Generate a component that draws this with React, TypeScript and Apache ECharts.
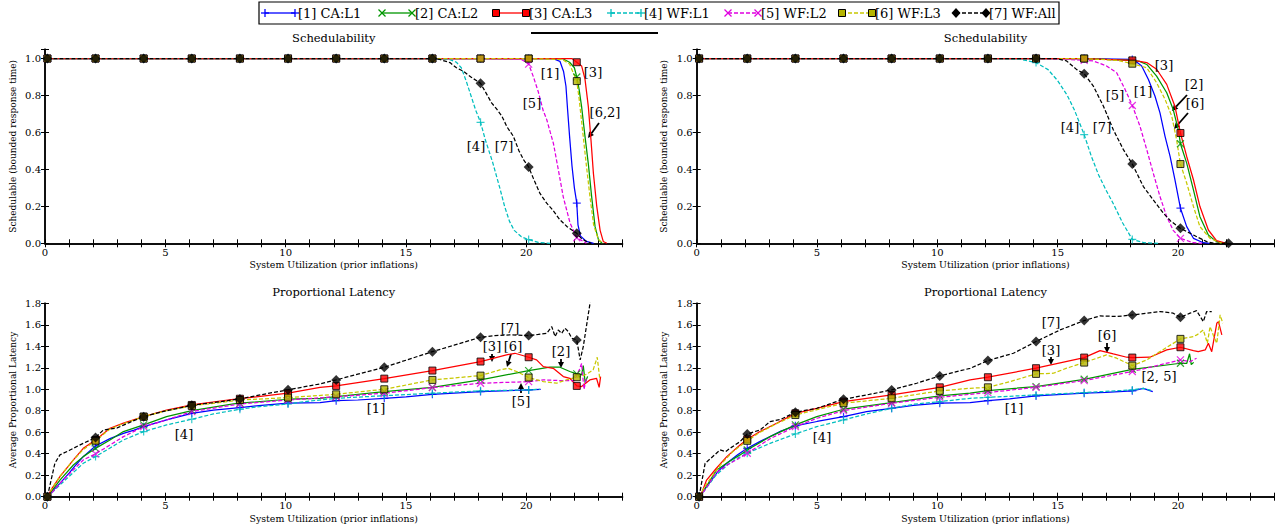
import React, { useEffect, useRef } from 'react';
import * as echarts from 'echarts';

type Pt = [number, number];

// ---------- Schedulability, left panel ----------
const schedL_caL1: Pt[] = [[0.1,1],[2.1,1],[4.1,1],[6.1,1],[8.1,1],[10.1,1],[12.1,1],[14.1,1],[16.1,1],[18.1,1],[20.1,1],[21.1,1],[21.4,0.985],[21.55,0.93],[21.65,0.85],[21.72,0.72],[21.8,0.58],[21.9,0.42],[22.0,0.3],[22.1,0.217],[22.15,0.1],[22.25,0.04],[22.5,0.01],[22.8,0]];
const schedL_caL2: Pt[] = [[0.1,1],[2.1,1],[4.1,1],[6.1,1],[8.1,1],[10.1,1],[12.1,1],[14.1,1],[16.1,1],[18.1,1],[20.1,1],[21.5,1],[21.8,0.98],[22.0,0.95],[22.1,0.9],[22.2,0.83],[22.3,0.74],[22.44,0.58],[22.58,0.43],[22.72,0.25],[22.86,0.09],[23.0,0.02],[23.15,0]];
const schedL_caL3: Pt[] = [[0.1,1],[2.1,1],[4.1,1],[6.1,1],[8.1,1],[10.1,1],[12.1,1],[14.1,1],[16.1,1],[18.1,1],[20.1,1],[21.9,1],[22.1,0.98],[22.3,0.96],[22.44,0.89],[22.58,0.74],[22.69,0.56],[22.79,0.38],[22.93,0.2],[23.07,0.07],[23.2,0.01],[23.35,0]];
const schedL_wfL1: Pt[] = [[0.1,1],[2.1,1],[4.1,1],[6.1,1],[8.1,1],[10.1,1],[12.1,1],[14.1,1],[16.1,1],[16.8,0.995],[17.1,0.98],[17.3,0.95],[17.5,0.88],[17.7,0.8],[17.9,0.72],[18.1,0.655],[18.3,0.56],[18.6,0.44],[18.9,0.3],[19.1,0.2],[19.3,0.12],[19.5,0.07],[19.8,0.035],[20.1,0.02],[20.5,0.005],[21,0]];
const schedL_wfL2: Pt[] = [[0.1,1],[2.1,1],[4.1,1],[6.1,1],[8.1,1],[10.1,1],[12.1,1],[14.1,1],[16.1,1],[18.1,1],[19.8,0.995],[20.1,0.97],[20.3,0.9],[20.5,0.82],[20.7,0.72],[20.85,0.67],[21.0,0.6],[21.13,0.54],[21.33,0.4],[21.54,0.25],[21.82,0.11],[22.1,0.03],[22.5,0]];
const schedL_wfL3: Pt[] = [[0.1,1],[2.1,1],[4.1,1],[6.1,1],[8.1,1],[10.1,1],[12.1,1],[14.1,1],[16.1,1],[18.1,1],[20.1,1],[21.5,0.995],[21.8,0.97],[22.1,0.878],[22.2,0.78],[22.35,0.6],[22.5,0.42],[22.65,0.25],[22.8,0.1],[23.0,0.02],[23.2,0]];
const schedL_wfAll: Pt[] = [[0.1,1],[2.1,1],[4.1,1],[6.1,1],[8.1,1],[10.1,1],[12.1,1],[14.1,1],[16.1,1],[16.4,0.995],[16.83,0.978],[17.1,0.95],[17.4,0.93],[17.7,0.9],[18.1,0.866],[18.3,0.82],[18.56,0.76],[18.75,0.73],[18.98,0.69],[19.2,0.63],[19.46,0.58],[19.7,0.5],[19.9,0.45],[20.1,0.413],[20.3,0.35],[20.57,0.27],[20.85,0.217],[21.1,0.18],[21.4,0.127],[21.7,0.09],[22.1,0.054],[22.3,0.025],[22.5,0.01],[22.7,0]];

// ---------- Schedulability, right panel ----------
const schedR_caL1: Pt[] = [[0.1,1],[2.1,1],[4.1,1],[6.1,1],[8.1,1],[10.1,1],[12.1,1],[14.1,1],[16.1,1],[18.1,0.995],[18.2,0.99],[18.49,0.96],[18.77,0.887],[19.04,0.797],[19.25,0.706],[19.46,0.579],[19.67,0.47],[19.87,0.344],[20.1,0.19],[20.36,0.09],[20.64,0.027],[21.05,0.003],[21.3,0]];
const schedR_caL2: Pt[] = [[0.1,1],[2.1,1],[4.1,1],[6.1,1],[8.1,1],[10.1,1],[12.1,1],[14.1,1],[16.1,1],[18.1,0.99],[18.4,0.985],[18.7,0.968],[19.11,0.905],[19.53,0.815],[19.8,0.724],[20.01,0.615],[20.1,0.539],[20.36,0.434],[20.64,0.289],[20.91,0.144],[21.26,0.045],[21.6,0.009],[21.9,0]];
const schedR_caL3: Pt[] = [[0.1,1],[2.1,1],[4.1,1],[6.1,1],[8.1,1],[10.1,1],[12.1,1],[14.1,1],[16.1,1],[18.1,0.99],[18.4,0.985],[18.7,0.978],[19.11,0.942],[19.53,0.86],[19.87,0.742],[20.1,0.597],[20.36,0.47],[20.64,0.344],[20.91,0.199],[21.26,0.072],[21.6,0.014],[22.0,0]];
const schedR_wfL1: Pt[] = [[0.1,1],[2.1,1],[4.1,1],[6.1,1],[8.1,1],[10.1,1],[12.1,1],[13.5,0.995],[14.1,0.978],[14.6,0.94],[15.0,0.88],[15.4,0.8],[15.7,0.72],[16.1,0.588],[16.4,0.47],[16.7,0.37],[17.0,0.29],[17.3,0.217],[17.7,0.11],[18.1,0.021],[18.6,0.003],[19.2,0]];
const schedR_wfL2: Pt[] = [[0.1,1],[2.1,1],[4.1,1],[6.1,1],[8.1,1],[10.1,1],[12.1,1],[14.1,1],[15.5,0.995],[16.1,0.99],[16.48,0.987],[17.03,0.96],[17.45,0.923],[17.8,0.833],[18.1,0.746],[18.42,0.633],[18.7,0.507],[18.97,0.38],[19.25,0.253],[19.53,0.144],[19.8,0.07],[20.1,0.027],[20.64,0.003],[21,0]];
const schedR_wfL3: Pt[] = [[0.1,1],[2.1,1],[4.1,1],[6.1,1],[8.1,1],[10.1,1],[12.1,1],[14.1,1],[16.1,1],[17.5,0.99],[18.1,0.972],[18.7,0.95],[19.11,0.869],[19.46,0.779],[19.74,0.688],[19.94,0.561],[20.1,0.429],[20.36,0.326],[20.64,0.199],[20.91,0.09],[21.33,0.027],[21.74,0.003],[22,0]];
const schedR_wfAll: Pt[] = [[0.1,1],[2.1,1],[4.1,1],[6.1,1],[8.1,1],[10.1,1],[12.1,1],[14.1,1],[14.96,1],[15.37,0.987],[15.79,0.94],[16.1,0.918],[16.48,0.851],[16.9,0.742],[17.31,0.615],[17.73,0.507],[18.1,0.429],[18.56,0.307],[18.97,0.235],[19.39,0.163],[19.7,0.12],[20.1,0.081],[20.64,0.045],[21.19,0.009],[21.5,0],[22.1,0]];

// ---------- Proportional latency, left panel ----------
const latL_caL1: Pt[] = [[0.1,0],[0.3,0.05],[0.62,0.124],[1.0,0.22],[1.3,0.3],[1.59,0.373],[2.1,0.472],[2.7,0.54],[3.26,0.59],[3.7,0.62],[4.1,0.652],[5.05,0.715],[6.1,0.776],[7.0,0.805],[8.1,0.83],[9.0,0.85],[10.1,0.87],[11.43,0.876],[12.1,0.894],[13,0.9],[14.1,0.916],[15,0.93],[16.1,0.953],[17,0.965],[18.1,0.978],[19,0.985],[20.1,0.994],[20.6,1.0]];
const latL_caL2: Pt[] = [[0.1,0],[0.3,0.06],[0.62,0.155],[1.18,0.295],[1.59,0.373],[2.1,0.45],[2.7,0.528],[3.26,0.606],[4.1,0.668],[5.05,0.745],[6.1,0.801],[7.83,0.863],[8.1,0.87],[10.1,0.907],[11.43,0.916],[12.1,0.932],[14.1,0.978],[16.1,1.018],[18.1,1.087],[20.1,1.174],[20.98,1.205],[21.4,1.205],[21.81,1.165],[22.1,1.143],[22.3,1.133],[22.37,1.22],[22.45,1.06],[22.55,1.12]];
const latL_caL3: Pt[] = [[0.1,0],[0.3,0.08],[0.62,0.187],[1.18,0.342],[1.59,0.45],[2.1,0.528],[2.7,0.637],[3.26,0.684],[4.1,0.745],[5.05,0.807],[6.1,0.854],[7.83,0.907],[8.1,0.912],[10.1,0.963],[11.43,1.018],[12.1,1.031],[14.1,1.099],[16.1,1.174],[18.1,1.258],[19.18,1.32],[19.53,1.335],[20.1,1.298],[20.43,1.273],[20.71,1.211],[21.12,1.195],[21.54,1.118],[21.81,1.102],[22.1,1.031],[22.3,1.025],[22.64,1.087],[22.92,1.102],[23.03,1.018],[23.09,1.118]];
const latL_wfL1: Pt[] = [[0.1,0],[0.3,0.04],[0.62,0.109],[1.59,0.311],[2.1,0.373],[3.26,0.528],[4.1,0.606],[5.05,0.668],[6.1,0.721],[7,0.77],[8.1,0.814],[9,0.84],[10.1,0.863],[11,0.89],[12.1,0.916],[14.1,0.94],[16.1,0.963],[18.1,0.985],[20.1,0.994],[20.57,1.0]];
const latL_wfL2: Pt[] = [[0.1,0],[0.3,0.04],[0.62,0.124],[1.59,0.342],[2.1,0.398],[3.26,0.559],[4.1,0.652],[5.05,0.714],[6.1,0.792],[8.1,0.863],[10.1,0.9],[12.1,0.93],[14.1,0.963],[16.1,1.015],[18.1,1.056],[20.1,1.071],[20.71,1.087],[21.5,1.08],[22.0,1.08],[22.2,1.18],[22.3,1.24],[22.4,1.0],[22.5,1.1]];
const latL_wfL3: Pt[] = [[0.1,0],[0.3,0.08],[0.62,0.19],[1.18,0.34],[1.59,0.44],[2.1,0.52],[2.7,0.63],[3.26,0.68],[4.1,0.745],[5.05,0.8],[6.1,0.845],[8.1,0.9],[10.1,0.922],[12.1,0.953],[14.1,1.0],[16.1,1.087],[18.1,1.127],[18.9,1.18],[19.25,1.195],[19.6,1.165],[20.1,1.109],[20.71,1.071],[21.26,1.056],[21.67,1.087],[22.1,1.112],[22.3,1.118],[22.5,1.14],[22.78,1.18],[22.95,1.298],[23.06,1.087]];
const latL_wfAll: Pt[] = [[0.1,0],[0.41,0.311],[0.62,0.389],[1.0,0.43],[1.59,0.497],[2.1,0.55],[2.42,0.62],[2.7,0.63],[3.0,0.64],[3.5,0.69],[4.1,0.745],[5.05,0.8],[6.1,0.85],[7.0,0.875],[8.1,0.91],[9,0.95],[10.1,0.995],[11.43,1.05],[12.1,1.087],[13,1.14],[14.1,1.205],[15,1.27],[16.1,1.35],[17,1.41],[18.1,1.484],[18.7,1.5],[19.32,1.506],[20.1,1.5],[20.5,1.51],[20.85,1.52],[21.06,1.583],[21.2,1.49],[21.33,1.552],[21.47,1.52],[21.61,1.568],[21.75,1.536],[21.89,1.475],[22.1,1.459],[22.24,1.273],[22.37,1.397],[22.65,1.8],[22.75,2.0]];

// ---------- Proportional latency, right panel ----------
const latR_caL1: Pt[] = [[0.1,0],[0.3,0.06],[0.6,0.15],[0.9,0.24],[1.3,0.32],[1.7,0.39],[2.1,0.45],[2.6,0.51],[3.05,0.56],[3.5,0.61],[4.1,0.66],[5,0.7],[6.1,0.745],[7.06,0.792],[8.1,0.823],[9,0.85],[10.1,0.87],[11.36,0.876],[12.1,0.894],[13,0.91],[14.1,0.938],[15,0.95],[16.1,0.963],[17,0.97],[18.1,0.985],[18.56,1.009],[18.95,0.978]];
const latR_caL2: Pt[] = [[0.1,0],[0.3,0.06],[0.83,0.249],[1.3,0.32],[1.8,0.389],[2.1,0.435],[3.05,0.559],[4.1,0.668],[4.99,0.745],[6.1,0.814],[8.1,0.876],[10.1,0.938],[11.36,0.963],[12.1,0.988],[14.1,1.025],[16.1,1.093],[18.1,1.186],[20.1,1.242],[20.36,1.24],[20.48,1.33],[20.55,1.23],[20.65,1.25]];
const latR_caL3: Pt[] = [[0.1,0],[0.2,0.03],[0.41,0.155],[0.8,0.26],[1.25,0.373],[1.8,0.482],[2.1,0.534],[2.63,0.606],[3.32,0.684],[4.1,0.776],[4.99,0.823],[6.1,0.885],[8.1,0.947],[10.1,1.018],[11.36,1.087],[12.1,1.112],[14.1,1.196],[16.1,1.295],[16.76,1.36],[17.31,1.329],[17.87,1.298],[18.1,1.295],[18.83,1.298],[19.53,1.366],[20.1,1.391],[20.64,1.36],[20.84,1.35],[21.13,1.366],[21.26,1.428],[21.4,1.35],[21.61,1.614],[21.68,1.63],[21.82,1.506]];
const latR_wfL1: Pt[] = [[0.1,0],[0.3,0.05],[0.8,0.2],[1.3,0.3],[1.7,0.36],[2.1,0.404],[3.05,0.497],[4.1,0.584],[4.99,0.652],[6.1,0.714],[7.06,0.77],[8.1,0.823],[9,0.86],[10.1,0.885],[11.36,0.916],[12.1,0.925],[14.1,0.947],[16.1,0.969],[18.1,0.994],[18.56,1.009],[18.95,0.985]];
const latR_wfL2: Pt[] = [[0.1,0],[0.3,0.05],[0.8,0.22],[1.3,0.3],[1.7,0.35],[2.1,0.404],[3.05,0.54],[4.1,0.652],[5,0.73],[6.1,0.801],[8.1,0.87],[10.1,0.925],[12.1,0.969],[14.1,1.018],[16.1,1.081],[18.1,1.165],[20.1,1.273],[20.5,1.257],[20.77,1.289]];
const latR_wfL3: Pt[] = [[0.1,0],[0.3,0.08],[0.6,0.18],[1.0,0.3],[1.5,0.42],[2.1,0.52],[2.63,0.6],[3.32,0.68],[4.1,0.76],[5,0.81],[6.1,0.87],[8.1,0.916],[10.1,0.985],[11.36,1.009],[12.1,1.018],[13,1.07],[14.1,1.143],[14.82,1.149],[15.37,1.196],[16.1,1.248],[17.03,1.32],[17.45,1.289],[18.1,1.22],[18.7,1.273],[19.25,1.351],[20.1,1.469],[20.64,1.49],[20.78,1.506],[21.05,1.552],[21.22,1.428],[21.33,1.583],[21.47,1.5],[21.61,1.428],[21.75,1.692],[21.86,1.614]];
const latR_wfAll: Pt[] = [[0.1,0],[0.35,0.311],[0.6,0.36],[0.97,0.435],[1.2,0.42],[1.38,0.45],[1.8,0.512],[2.1,0.584],[2.63,0.621],[3.05,0.699],[3.5,0.72],[4.1,0.786],[4.99,0.823],[6.1,0.907],[7.06,0.947],[8.1,0.994],[9.14,1.056],[10.1,1.124],[11.36,1.195],[12.1,1.267],[13.16,1.335],[14.1,1.444],[15.1,1.552],[16.1,1.639],[16.76,1.683],[17.45,1.677],[18.1,1.692],[18.7,1.708],[19.25,1.723],[19.8,1.708],[20.1,1.67],[20.5,1.708],[20.77,1.732],[21.05,1.63],[21.19,1.723],[21.4,1.723]];

// ---------- series styling ----------
const seriesNames = ['[1] CA:L1', '[2] CA:L2', '[3] CA:L3', '[4] WF:L1', '[5] WF:L2', '[6] WF:L3', '[7] WF:All'];
const lineColors = ['#0000ff', '#009600', '#ff0000', '#00bebe', '#e000e0', '#c8c800', '#000000'];
const markFill = ['#0000ff', '#009600', '#ff0000', '#00bebe', '#e000e0', '#b4b400', '#000000'];
const markKinds = ['plus', 'cross', 'square', 'plus', 'cross', 'square', 'diamond'];
const dashedLine = [false, false, false, true, true, true, true];

const FONT = '"DejaVu Serif", "Liberation Serif", serif';
const X_NAME = 'System Utilization (prior inflations)';

const panels = [
  { grid: { left: 45, top: 49.3, width: 577.5, height: 194 }, yMax: 1.05, title: 'Schedulability', yName: 'Schedulable (bounded response time)',
    data: [schedL_caL1, schedL_caL2, schedL_caL3, schedL_wfL1, schedL_wfL2, schedL_wfL3, schedL_wfAll] },
  { grid: { left: 696.7, top: 49.3, width: 577.6, height: 194 }, yMax: 1.05, title: 'Schedulability', yName: 'Schedulable (bounded response time)',
    data: [schedR_caL1, schedR_caL2, schedR_caL3, schedR_wfL1, schedR_wfL2, schedR_wfL3, schedR_wfAll] },
  { grid: { left: 45, top: 303.3, width: 577.5, height: 193.4 }, yMax: 1.8, title: 'Proportional Latency', yName: 'Average Proportional Latency',
    data: [latL_caL1, latL_caL2, latL_caL3, latL_wfL1, latL_wfL2, latL_wfL3, latL_wfAll] },
  { grid: { left: 696.7, top: 303.3, width: 577.6, height: 193.4 }, yMax: 1.8, title: 'Proportional Latency', yName: 'Average Proportional Latency',
    data: [latR_caL1, latR_caL2, latR_caL3, latR_wfL1, latR_wfL2, latR_wfL3, latR_wfAll] },
];

// Text annotations: [label, centre x, centre y]
const notes: [string, number, number][] = [
  ['[1]', 550, 73], ['[3]', 593, 72], ['[5]', 532, 103], ['[6,2]', 605, 112], ['[4]', 476, 146], ['[7]', 504, 146],
  ['[3]', 1164, 65], ['[2]', 1194, 84], ['[6]', 1195, 103], ['[5]', 1115, 95], ['[1]', 1143, 91], ['[4]', 1070, 127], ['[7]', 1102, 127],
  ['[7]', 510, 328], ['[3]', 492, 346], ['[6]', 513, 346], ['[2]', 561, 351], ['[5]', 521, 401], ['[1]', 376, 408], ['[4]', 184, 434],
  ['[7]', 1051, 322], ['[3]', 1051, 350], ['[6]', 1107, 335], ['[2, 5]', 1159, 376], ['[1]', 1014, 408], ['[4]', 822, 437],
];
// Pointer arrows: [x1, y1, x2 (tip), y2 (tip)]
const pointers: [number, number, number, number][] = [
  [599, 123, 588, 138],
  [1187, 95, 1172, 111], [1188, 113, 1174, 129],
  [492, 354, 492, 362], [511, 354, 507, 367], [561, 359, 561, 368], [521, 393, 521, 383],
  [1051, 357, 1051, 365], [1107, 343, 1107, 353],
];
const legendIconX = [265, 382, 496, 611, 728, 842, 956];

const SYMBOL: Record<string, string> = {
  plus: 'path://M5,0L5,10M0,5L10,5',
  cross: 'path://M0,0L10,10M10,0L0,10',
  square: 'rect',
  diamond: 'diamond',
};

const onMarkGrid = (x: number) => {
  const k = (x - 0.1) / 2;
  return Math.abs(k - Math.round(k)) < 1e-6;
};

function markStyle(i: number) {
  const kind = markKinds[i];
  if (kind === 'plus' || kind === 'cross')
    return { size: kind === 'plus' ? 8 : 7, style: { color: lineColors[i], borderColor: lineColors[i], borderWidth: 1.2 } };
  if (kind === 'square') return { size: 7, style: { color: markFill[i], borderColor: '#000', borderWidth: 1 } };
  return { size: 10, style: { color: '#000', borderColor: '#000', borderWidth: 0 } };
}

function legendMarker(i: number, cx: number, cy: number): any[] {
  const kind = markKinds[i];
  const c = lineColors[i];
  if (kind === 'plus')
    return [
      { type: 'line', shape: { x1: cx - 4, y1: cy, x2: cx + 4, y2: cy }, style: { stroke: c, lineWidth: 1.3 } },
      { type: 'line', shape: { x1: cx, y1: cy - 4, x2: cx, y2: cy + 4 }, style: { stroke: c, lineWidth: 1.3 } },
    ];
  if (kind === 'cross')
    return [
      { type: 'line', shape: { x1: cx - 3.5, y1: cy - 3.5, x2: cx + 3.5, y2: cy + 3.5 }, style: { stroke: c, lineWidth: 1.3 } },
      { type: 'line', shape: { x1: cx - 3.5, y1: cy + 3.5, x2: cx + 3.5, y2: cy - 3.5 }, style: { stroke: c, lineWidth: 1.3 } },
    ];
  if (kind === 'square')
    return [{ type: 'rect', shape: { x: cx - 3.5, y: cy - 3.5, width: 7, height: 7 }, style: { fill: markFill[i], stroke: '#000', lineWidth: 1 } }];
  return [{ type: 'polygon', shape: { points: [[cx, cy - 5], [cx + 4.5, cy], [cx, cy + 5], [cx - 4.5, cy]] }, style: { fill: '#000' } }];
}

function arrow(x1: number, y1: number, x2: number, y2: number): any[] {
  const a = Math.atan2(y2 - y1, x2 - x1);
  const L = 6, W = 3;
  const bx = x2 - L * Math.cos(a), by = y2 - L * Math.sin(a);
  const px = -Math.sin(a) * W, py = Math.cos(a) * W;
  return [
    { type: 'line', shape: { x1, y1, x2: bx, y2: by }, style: { stroke: '#000', lineWidth: 1.8 } },
    { type: 'polygon', shape: { points: [[x2, y2], [bx + px, by + py], [bx - px, by - py]] }, style: { fill: '#000' } },
  ];
}

function buildOption() {
  const axisLine = { show: true, lineStyle: { color: '#000', width: 1.5 } };
  const tick = { show: true, inside: true, length: 4, lineStyle: { color: '#000', width: 1 } };
  const xAxis: any[] = [];
  const yAxis: any[] = [];
  const series: any[] = [];

  panels.forEach((p, gi) => {
    const xBase = { gridIndex: gi, type: 'value', min: 0, max: 24, interval: 1, axisLine, axisTick: tick, splitLine: { show: false } };
    xAxis.push({
      ...xBase, position: 'bottom',
      axisLabel: { formatter: (v: number) => (v % 5 === 0 ? String(v) : ''), color: '#000', fontFamily: FONT, fontSize: 10, margin: 4 },
      name: X_NAME, nameLocation: 'middle', nameGap: 17,
      nameTextStyle: { color: '#000', fontFamily: FONT, fontSize: 9.4 },
    });
    xAxis.push({ ...xBase, position: 'top', axisLabel: { show: false } });

    const yBase = { gridIndex: gi, type: 'value', min: 0, max: p.yMax, interval: 0.2, axisLine, axisTick: tick, splitLine: { show: false } };
    yAxis.push({
      ...yBase, position: 'left',
      axisLabel: {
        formatter: (v: number) => {
          const k = v / 0.2;
          return Math.abs(k - Math.round(k)) < 1e-6 ? v.toFixed(1) : '';
        },
        color: '#000', fontFamily: FONT, fontSize: 10, margin: 4,
      },
      name: p.yName, nameLocation: 'middle', nameGap: 28,
      nameTextStyle: { color: '#000', fontFamily: FONT, fontSize: 9 },
    });
    yAxis.push({ ...yBase, position: 'right', axisLabel: { show: false } });

    const xi = gi * 2, yi = gi * 2;
    p.data.forEach((d, i) => {
      series.push({
        type: 'line', name: seriesNames[i], xAxisIndex: xi, yAxisIndex: yi, data: d,
        showSymbol: false, symbol: 'none', silent: true, clip: true, z: 2 + i * 0.01,
        lineStyle: { color: lineColors[i], width: 1.25, type: dashedLine[i] ? [4, 2] : 'solid' },
      });
    });
    p.data.forEach((d, i) => {
      const m = markStyle(i);
      series.push({
        type: 'scatter', name: seriesNames[i], xAxisIndex: xi, yAxisIndex: yi,
        data: d.filter(pt => onMarkGrid(pt[0])),
        symbol: SYMBOL[markKinds[i]], symbolSize: m.size, itemStyle: m.style, silent: true, z: 3 + i * 0.01,
      });
    });
  });

  const graphic: any[] = [];
  // panel titles
  panels.forEach(p => {
    graphic.push({
      type: 'text', x: p.grid.left + p.grid.width / 2, y: p.grid.top - 11,
      style: { text: p.title, align: 'center', verticalAlign: 'middle', font: `11.5px ${FONT}`, fill: '#000' },
    });
  });
  // legend box
  graphic.push({ type: 'rect', shape: { x: 259, y: 2, width: 800, height: 22 }, style: { fill: '#fff', stroke: '#000', lineWidth: 1.2 } });
  seriesNames.forEach((name, i) => {
    const x0 = legendIconX[i], y0 = 13;
    graphic.push({
      type: 'line', shape: { x1: x0, y1: y0, x2: x0 + 30, y2: y0 },
      style: { stroke: lineColors[i], lineWidth: 1.3, lineDash: dashedLine[i] ? [4, 2] : null },
    });
    graphic.push(...legendMarker(i, x0, y0), ...legendMarker(i, x0 + 30, y0));
    graphic.push({
      type: 'text', x: x0 + 33, y: y0,
      style: { text: name, align: 'left', verticalAlign: 'middle', font: `13px ${FONT}`, fill: '#000' },
    });
  });
  // rule under the legend
  graphic.push({ type: 'line', shape: { x1: 531, y1: 33, x2: 658, y2: 33 }, style: { stroke: '#000', lineWidth: 2 } });
  // curve labels
  notes.forEach(([t, x, y]) => {
    graphic.push({ type: 'text', x, y, style: { text: t, align: 'center', verticalAlign: 'middle', font: `13px ${FONT}`, fill: '#000' }, z: 10 });
  });
  pointers.forEach(([a, b, c, d]) => graphic.push(...arrow(a, b, c, d)));

  return {
    animation: false,
    backgroundColor: '#fff',
    grid: panels.map(p => ({ ...p.grid, containLabel: false })),
    xAxis, yAxis, series, graphic,
  };
}

export default function App() {
  const ref = useRef<HTMLDivElement>(null);
  useEffect(() => {
    document.body.style.margin = '0';
    const chart = echarts.init(ref.current!, null, { renderer: 'svg' });
    chart.setOption(buildOption());
    return () => chart.dispose();
  }, []);
  return <div ref={ref} style={{ width: 1281, height: 531 }} />;
}
